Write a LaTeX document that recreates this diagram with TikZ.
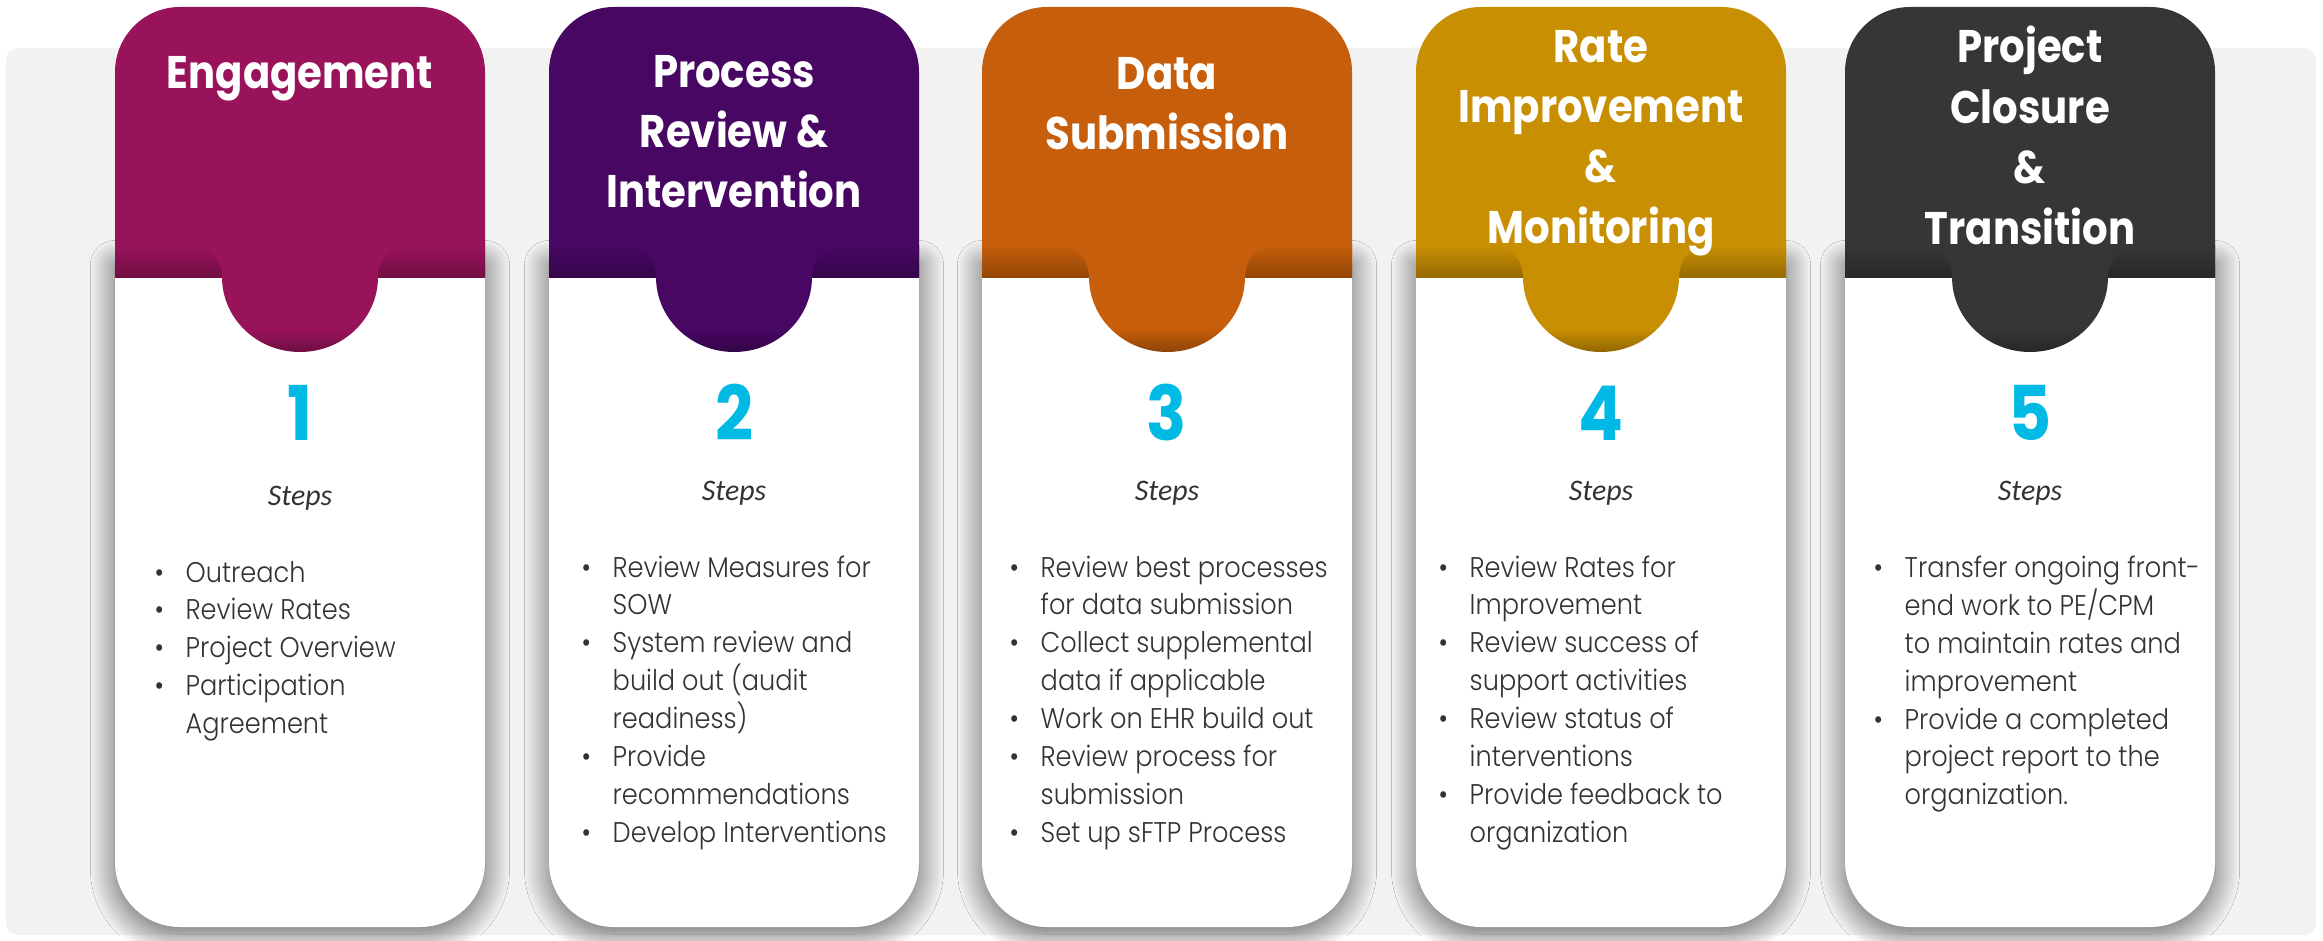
\documentclass[tikz,border=0pt]{standalone}
\usepackage{fontspec}
\setmainfont{Poppins}
\newfontfamily\headfont{Poppins}[FakeStretch=0.88]
\newfontfamily\bodyfont{Poppins Light}[FakeStretch=0.9]
\newfontfamily\stepsfont{Carlito}
\usetikzlibrary{shadows.blur}

\definecolor{engage}{HTML}{99135B}
\definecolor{review}{HTML}{470763}
\definecolor{submit}{HTML}{C65E0B}
\definecolor{monitor}{HTML}{C98F02}
\definecolor{closure}{HTML}{363636}
\definecolor{stepnum}{HTML}{00B9E4}
\definecolor{bodytext}{HTML}{333333}
\definecolor{panel}{HTML}{F2F2F2}
\colorlet{tabtop}{engage}
\colorlet{tabbot}{engage}
\pgfdeclareverticalshading[tabtop,tabbot]{tabshade}{100bp}{color(0bp)=(tabbot); color(25bp)=(tabbot); color(36bp)=(tabtop); color(100bp)=(tabtop)}
\newcommand{\stepbullet}{\makebox[0.31cm][l]{\textbullet}}

\begin{document}
\begin{tikzpicture}[
    heading/.style={anchor=base, inner sep=0, text=white, font=\headfont\bfseries\fontsize{13}{17.2}\selectfont},
    number/.style={anchor=base, inner sep=0, text=stepnum, font=\headfont\bfseries\fontsize{21.5}{24}\selectfont},
    stepslabel/.style={anchor=base, inner sep=0, text=bodytext, font=\stepsfont\itshape\fontsize{8.5}{10}\selectfont},
    steplist/.style={anchor=base west, inner sep=0, text=bodytext, font=\bodyfont\fontsize{8.1}{10.8}\selectfont},
    card/.style={fill=white, blur shadow={shadow xshift=0pt, shadow yshift=-2pt, shadow blur radius=7pt, shadow blur steps=30, shadow opacity=60}}
  ]
  \useasboundingbox (0,0) rectangle (23.23,9.40);
  \fill[panel, rounded corners=0.12cm] (0.06,0.05) rectangle (23.16,8.92);

  % 1 engagement
  \fill[card] (1.15,6.82) [rounded corners=0.65cm] -- (1.15,0.13) -- (4.85,0.13) [sharp corners] -- (4.85,6.82) -- cycle;
  \fill[engage] (1.15,6.63) [rounded corners=0.65cm] -- (1.15,9.33) -- (4.85,9.33) [sharp corners] -- (4.85,6.63) -- cycle;
  \shade[top color=engage, bottom color=engage!75!black] (1.15,6.63) rectangle (4.85,6.95);
  \colorlet{tabtop}{engage}\colorlet{tabbot}{engage!72!black}
  \shade[shading=tabshade] (1.92,6.95) to[out=0,in=90] (2.22,6.63) arc[start angle=180, end angle=360, x radius=0.78, y radius=0.75] to[out=90,in=180] (4.08,6.95) -- cycle;
  \node[heading] (engagement) at (3.00,8.52) {Engagement};
  \node[number] (num1) at (3.00,5.00) {1};
  \node[stepslabel] (steps1) at (3.00,4.35) {Steps};
  \node[steplist] (list1) at (1.54,3.58) {\begin{tabular}[t]{@{}l@{}l@{}}
    \stepbullet & Outreach\\
    \stepbullet & Review Rates\\
    \stepbullet & Project Overview\\
    \stepbullet & Participation\\
                & Agreement
  \end{tabular}};

  % 2 process review
  \fill[card] (5.49,6.82) [rounded corners=0.65cm] -- (5.49,0.13) -- (9.19,0.13) [sharp corners] -- (9.19,6.82) -- cycle;
  \fill[review] (5.49,6.63) [rounded corners=0.65cm] -- (5.49,9.33) -- (9.19,9.33) [sharp corners] -- (9.19,6.63) -- cycle;
  \shade[top color=review, bottom color=review!75!black] (5.49,6.63) rectangle (9.19,6.95);
  \colorlet{tabtop}{review}\colorlet{tabbot}{review!72!black}
  \shade[shading=tabshade] (6.26,6.95) to[out=0,in=90] (6.56,6.63) arc[start angle=180, end angle=360, x radius=0.78, y radius=0.75] to[out=90,in=180] (8.42,6.95) -- cycle;
  \node[heading] (process) at (7.34,8.53) {\begin{tabular}[t]{@{}c@{}}Process\\Review \&\\Intervention\end{tabular}};
  \node[number] (num2) at (7.34,5.00) {2};
  \node[stepslabel] (steps2) at (7.34,4.40) {Steps};
  \node[steplist] (list2) at (5.81,3.63) {\begin{tabular}[t]{@{}l@{}l@{}}
    \stepbullet & Review Measures for\\
                & SOW\\
    \stepbullet & System review and\\
                & build out (audit\\
                & readiness)\\
    \stepbullet & Provide\\
                & recommendations\\
    \stepbullet & Develop Interventions
  \end{tabular}};

  % 3 data submission
  \fill[card] (9.82,6.82) [rounded corners=0.65cm] -- (9.82,0.13) -- (13.52,0.13) [sharp corners] -- (13.52,6.82) -- cycle;
  \fill[submit] (9.82,6.63) [rounded corners=0.65cm] -- (9.82,9.33) -- (13.52,9.33) [sharp corners] -- (13.52,6.63) -- cycle;
  \shade[top color=submit, bottom color=submit!75!black] (9.82,6.63) rectangle (13.52,6.95);
  \colorlet{tabtop}{submit}\colorlet{tabbot}{submit!72!black}
  \shade[shading=tabshade] (10.59,6.95) to[out=0,in=90] (10.89,6.63) arc[start angle=180, end angle=360, x radius=0.78, y radius=0.75] to[out=90,in=180] (12.75,6.95) -- cycle;
  \node[heading] (data) at (11.67,8.51) {\begin{tabular}[t]{@{}c@{}}Data\\Submission\end{tabular}};
  \node[number] (num3) at (11.67,5.00) {3};
  \node[stepslabel] (steps3) at (11.67,4.40) {Steps};
  \node[steplist] (list3) at (10.09,3.63) {\begin{tabular}[t]{@{}l@{}l@{}}
    \stepbullet & Review best processes\\
                & for data submission\\
    \stepbullet & Collect supplemental\\
                & data if applicable\\
    \stepbullet & Work on EHR build out\\
    \stepbullet & Review process for\\
                & submission\\
    \stepbullet & Set up sFTP Process
  \end{tabular}};

  % 4 rate improvement
  \fill[card] (14.16,6.82) [rounded corners=0.65cm] -- (14.16,0.13) -- (17.86,0.13) [sharp corners] -- (17.86,6.82) -- cycle;
  \fill[monitor] (14.16,6.63) [rounded corners=0.65cm] -- (14.16,9.33) -- (17.86,9.33) [sharp corners] -- (17.86,6.63) -- cycle;
  \shade[top color=monitor, bottom color=monitor!75!black] (14.16,6.63) rectangle (17.86,6.95);
  \colorlet{tabtop}{monitor}\colorlet{tabbot}{monitor!72!black}
  \shade[shading=tabshade] (14.93,6.95) to[out=0,in=90] (15.23,6.63) arc[start angle=180, end angle=360, x radius=0.78, y radius=0.75] to[out=90,in=180] (17.09,6.95) -- cycle;
  \node[heading] (rate) at (16.01,8.78) {\begin{tabular}[t]{@{}c@{}}Rate\\Improvement\\\&\\Monitoring\end{tabular}};
  \node[number] (num4) at (16.01,5.00) {4};
  \node[stepslabel] (steps4) at (16.01,4.40) {Steps};
  \node[steplist] (list4) at (14.38,3.63) {\begin{tabular}[t]{@{}l@{}l@{}}
    \stepbullet & Review Rates for\\
                & Improvement\\
    \stepbullet & Review success of\\
                & support activities\\
    \stepbullet & Review status of\\
                & interventions\\
    \stepbullet & Provide feedback to\\
                & organization
  \end{tabular}};

  % 5 project closure
  \fill[card] (18.45,6.82) [rounded corners=0.65cm] -- (18.45,0.13) -- (22.15,0.13) [sharp corners] -- (22.15,6.82) -- cycle;
  \fill[closure] (18.45,6.63) [rounded corners=0.65cm] -- (18.45,9.33) -- (22.15,9.33) [sharp corners] -- (22.15,6.63) -- cycle;
  \shade[top color=closure, bottom color=closure!75!black] (18.45,6.63) rectangle (22.15,6.95);
  \colorlet{tabtop}{closure}\colorlet{tabbot}{closure!72!black}
  \shade[shading=tabshade] (19.22,6.95) to[out=0,in=90] (19.52,6.63) arc[start angle=180, end angle=360, x radius=0.78, y radius=0.75] to[out=90,in=180] (21.38,6.95) -- cycle;
  \node[heading] (closure) at (20.30,8.77) {\begin{tabular}[t]{@{}c@{}}Project\\Closure\\\&\\Transition\end{tabular}};
  \node[number] (num5) at (20.30,5.00) {5};
  \node[stepslabel] (steps5) at (20.30,4.40) {Steps};
  \node[steplist] (list5) at (18.73,3.63) {\begin{tabular}[t]{@{}l@{}l@{}}
    \stepbullet & Transfer ongoing front-\\
                & end work to PE/CPM\\
                & to maintain rates and\\
                & improvement\\
    \stepbullet & Provide a completed\\
                & project report to the\\
                & organization.
  \end{tabular}};
\end{tikzpicture}
\end{document}
